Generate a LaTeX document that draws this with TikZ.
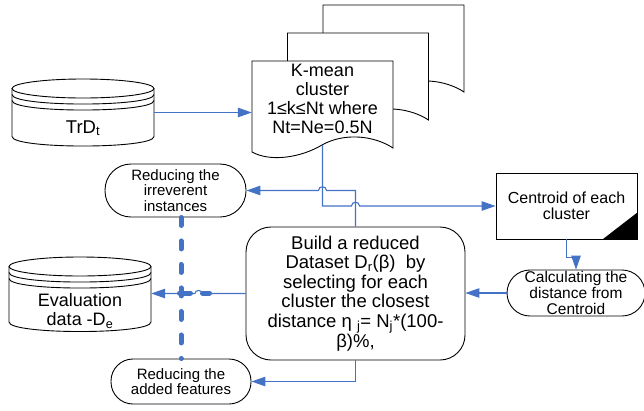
\documentclass[tikz,border=0pt]{standalone}
\usepackage{fontspec}
\setmainfont{Liberation Sans}
\usetikzlibrary{calc,arrows.meta}

\definecolor{linie}{RGB}{68,114,196}

\begin{document}
\begin{tikzpicture}[x=1pt,y=-1pt,
  pfeil/.style={draw=linie,line width=1.1pt,-{Triangle[length=14pt,width=9.5pt]}},
  punktlinie/.style={draw=linie,line width=5pt,line cap=round,dash pattern=on 8pt off 15.5pt},
  form/.style={draw=black,line width=0.9pt,fill=white},
  unsichtbar/.style={inner sep=0pt,minimum width=#1},
  txt/.style={inner sep=0pt,align=center},
  kapsel/.style={form,rectangle,inner sep=0pt,align=center,font=\fontsize{15}{15.5}\selectfont}]

\useasboundingbox (0,0) rectangle (644,410);

%DATENBANK TrDt (oben links)
\draw[form] (83,88.5) ellipse [x radius=71pt, y radius=9.5pt];
\draw[line width=0.9pt] (12,94.5) .. controls (12,107.2) and (154,107.2) .. (154,94.5);
\draw[line width=0.9pt] (12,100.5) .. controls (12,113.2) and (154,113.2) .. (154,100.5);
\draw[line width=0.9pt] (12,88.5) -- (12,136.5) .. controls (12,149.2) and (154,149.2) .. (154,136.5) -- (154,88.5);
\node[unsichtbar=142pt,minimum height=67pt] (trd) at (83,112.5) {};
\node[txt,font=\fontsize{18.5}{19}\selectfont] (trdtxt) at (83,128) {TrD\textsubscript{t}};



%DOKUMENTE K-MEAN (hinten nach vorne)
\draw[form] (323,5) -- (464,5) -- (464,92) .. controls (446,80) and (416,76) .. (393,89) .. controls (371,102) and (341,106) .. (323,96) -- cycle;
\draw[form] (287.5,33) -- (428.5,33) -- (428.5,120) .. controls (410.5,108) and (380.5,104) .. (357.5,117) .. controls (335.5,130) and (305.5,134) .. (287.5,124) -- cycle;
\draw[form] (252,61) -- (393,61) -- (393,148) .. controls (375,136) and (345,132) .. (322,145) .. controls (300,158) and (270,162) .. (252,152) -- cycle;
\node[unsichtbar=141pt,minimum height=84pt] (kmean) at (322.5,103) {};
\node[txt,font=\fontsize{18}{19}\selectfont] (kmeantxt) at (322.5,99) {K-mean\\cluster\\1≤k≤Nt where\\Nt=Ne=0.5N};



%CENTROID KASTEN
\node[form,inner sep=0pt,minimum width=141pt,minimum height=66pt,align=center,font=\fontsize{16}{16.5}\selectfont] (cen) at (566.5,206) {Centroid of each\\cluster};
\fill (cen.south east) -- ++(-35,0) -- ++(35,-27) -- cycle;



%KAPSELN
\node[kapsel,rounded corners=26pt,minimum width=141pt,minimum height=53pt] (rii) at (175.5,190.5) {Reducing the\\irreverent\\instances};
\node[kapsel,rounded corners=22pt,minimum width=140pt,minimum height=45pt] (raf) at (181,381.5) {Reducing the\\added features};
\node[kapsel,rounded corners=23pt,minimum width=138pt,minimum height=46pt,font=\fontsize{15.5}{16}\selectfont] (calc) at (576,293) {Calculating the\\distance from\\Centroid};



%GROSSER KASTEN
\node[form,rectangle,rounded corners=25pt,inner sep=0pt,minimum width=219pt,minimum height=133pt,align=center,font=\fontsize{18.5}{19.5}\selectfont] (bau) at (355.5,293.5) {Build a reduced\\Dataset D\textsubscript{r}(β)~ by\\selecting for each\\cluster the closest\\distance η \textsubscript{j}= N\textsubscript{j}*(100-\\β)\%,};



%DATENBANK EVALUATION (unten links)
\draw[form] (80,266.5) ellipse [x radius=71pt, y radius=9.5pt];
\draw[line width=0.9pt] (9,272.5) .. controls (9,285.2) and (151,285.2) .. (151,272.5);
\draw[line width=0.9pt] (9,278.5) .. controls (9,291.2) and (151,291.2) .. (151,278.5);
\draw[line width=0.9pt] (9,266.5) -- (9,322) .. controls (9,334.7) and (151,334.7) .. (151,322) -- (151,266.5);
\node[unsichtbar=142pt,minimum height=75pt] (eva) at (80,294.5) {};
\node[txt,font=\fontsize{18}{19}\selectfont] (evatxt) at (80,311) {Evaluation\\data -D\textsubscript{e}};



%VERBINDUNGEN
\draw[pfeil] (trd.east) -- (trd.east -| kmean.west);
\draw[pfeil] (kmean.south) -- (kmean.south |- cen.west) -- (351.5,206) .. controls (351.5,201) and (359.5,201) .. (359.5,206) -- (cen.west);
\draw[pfeil] (bau.north) -- (bau.north |- rii.east) -- (326.5,190.5) .. controls (326.5,185.5) and (318.5,185.5) .. (318.5,190.5) -- (rii.east);
\draw[pfeil] (cen.south) -- ++(0,18) -| (calc.north);
\draw[pfeil] (calc.west) -- (calc.west -| bau.east);
\draw[pfeil] (bau.west) -- (202,293.5) .. controls (202,289.5) and (195,289.5) .. (195,293.5) -- (bau.west -| eva.east);
\draw[pfeil] (bau.south) |- (raf.east);

%GESTRICHELTE LINIE
\draw[punktlinie] (raf.north |- rii.south) -- (raf.north);
\draw[punktlinie,solid] (179.5,293) -- (190.5,293);
\draw[punktlinie,solid] (202.5,293) -- (209.5,293);

\end{tikzpicture}
\end{document}
